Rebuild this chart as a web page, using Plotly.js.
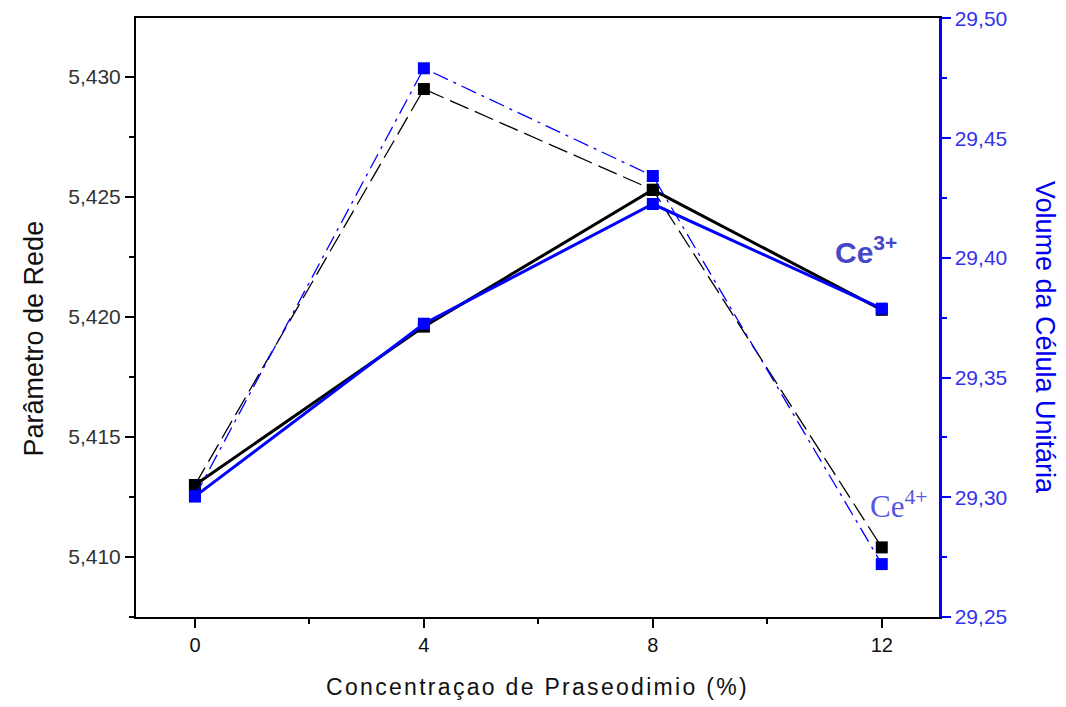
<!DOCTYPE html>
<html>
<head>
<meta charset="utf-8">
<script src="https://cdn.plot.ly/plotly-3.0.1.min.js"></script>
<style>
html,body{margin:0;padding:0;background:#fff;}
#chart{width:1066px;height:707px;}
.g-xtitle text{letter-spacing:2.3px;}
</style>
</head>
<body>
<div id="chart"></div>
<script>
var concentration = [0, 4, 8, 12];
var paramCe3 = [5.4130, 5.4196, 5.4253, 5.4203];
var paramCe4 = [5.4130, 5.4295, 5.4253, 5.4104];
var volumeCe3 = [29.3004, 29.3725, 29.4225, 29.3788];
var volumeCe4 = [29.3004, 29.4792, 29.4342, 29.2721];
var xTickVals = [0, 4, 8, 12];
var xTickText = ["0", "4", "8", "12"];

var traces = [
  {x: concentration, y: paramCe4, yaxis: 'y', mode: 'lines+markers',
   line: {color: '#000000', width: 1.3, dash: '20px,7px'},
   marker: {symbol: 'square', size: 12, color: '#000000'}},
  {x: concentration, y: volumeCe4, yaxis: 'y2', mode: 'lines+markers',
   line: {color: '#0000ff', width: 1.3, dash: '16px,6px,3px,6px'},
   marker: {symbol: 'square', size: 12, color: '#0000ff'}},
  {x: concentration, y: paramCe3, yaxis: 'y', mode: 'lines+markers',
   line: {color: '#000000', width: 3},
   marker: {symbol: 'square', size: 12, color: '#000000'}},
  {x: concentration, y: volumeCe3, yaxis: 'y2', mode: 'lines+markers',
   line: {color: '#0000ff', width: 3},
   marker: {symbol: 'square', size: 12, color: '#0000ff'}}
];

var layout = {
  width: 1066, height: 707,
  margin: {l: 136, r: 127, t: 18, b: 90},
  paper_bgcolor: '#ffffff', plot_bgcolor: '#ffffff',
  showlegend: false,
  separators: ',.',
  font: {family: 'Liberation Sans, Arial, sans-serif', color: '#222'},
  xaxis: {
    range: [-1.03, 13.0],
    tickvals: xTickVals, ticktext: xTickText,
    ticks: 'outside', ticklen: 9, tickwidth: 2, tickcolor: '#000',
    minor: {tickvals: [2, 6, 10], ticks: 'outside', ticklen: 5, tickwidth: 2, tickcolor: '#000'},
    showline: true, linecolor: '#000', linewidth: 2, mirror: true,
    showgrid: false, zeroline: false,
    tickfont: {size: 20, color: '#111'},
    title: {text: 'Concentraçao de Praseodimio (%)', standoff: 24,
      font: {size: 23, color: '#111'}}
  },
  yaxis: {
    range: [5.4075, 5.43246],
    tick0: 5.41, dtick: 0.005, tickformat: '.3f',
    ticks: 'outside', ticklen: 9, tickwidth: 2, tickcolor: '#000',
    minor: {dtick: 0.0025, ticks: 'outside', ticklen: 5, tickwidth: 2, tickcolor: '#000'},
    showline: true, linecolor: '#000', linewidth: 2,
    showgrid: false, zeroline: false,
    tickfont: {size: 21, color: '#333'}
  },
  yaxis2: {
    overlaying: 'y', side: 'right',
    range: [29.25, 29.5002],
    tick0: 29.25, dtick: 0.05, tickformat: '.2f',
    ticks: 'outside', ticklen: 9, tickwidth: 2, tickcolor: '#0000ff',
    minor: {dtick: 0.025, ticks: 'outside', ticklen: 5, tickwidth: 2, tickcolor: '#0000ff'},
    showline: true, linecolor: '#0000ff', linewidth: 2.5,
    showgrid: false, zeroline: false,
    tickfont: {size: 21, color: '#3333ee'}
  },
  annotations: [
    {xref: 'paper', yref: 'paper', x: -0.127, y: 0.465, xanchor: 'center', yanchor: 'middle',
     text: 'Parâmetro de Rede', textangle: -90, showarrow: false,
     font: {size: 27, color: '#111'}},
    {xref: 'paper', yref: 'paper', x: 1.132, y: 0.466, xanchor: 'center', yanchor: 'middle',
     text: 'Volume da Célula Unitária', textangle: 90, showarrow: false,
     font: {size: 27, color: '#0000ee'}},
    {xref: 'x', yref: 'y', x: 11.15, y: 5.4228, xanchor: 'left', yanchor: 'middle',
     text: '<b>Ce<sup>3+</sup></b>', showarrow: false,
     font: {family: 'Liberation Sans, Arial, sans-serif', size: 30, color: '#4646c8'}},
    {xref: 'x', yref: 'y', x: 11.76, y: 5.4122, xanchor: 'left', yanchor: 'middle',
     text: 'Ce<sup>4+</sup>', showarrow: false,
     font: {family: 'Liberation Serif, Times New Roman, serif', size: 31, color: '#5555dd'}}
  ]
};

Plotly.newPlot('chart', traces, layout, {displayModeBar: false, staticPlot: true});
</script>
</body>
</html>
